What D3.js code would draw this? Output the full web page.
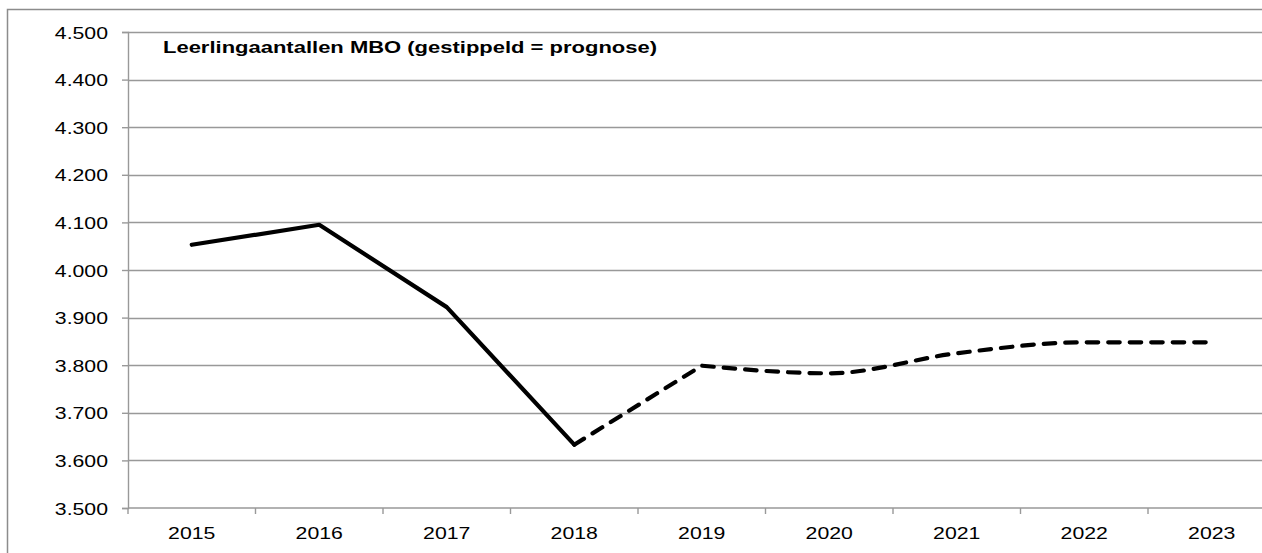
<!DOCTYPE html>
<html>
<head>
<meta charset="utf-8">
<script src="https://cdn.jsdelivr.net/npm/d3@7"></script>
<style>
  html, body { margin: 0; padding: 0; background: #fff; }
  svg { display: block; }
  text { font-family: "Liberation Sans", Arial, sans-serif; fill: #000; }
</style>
</head>
<body>
<svg id="chart" width="1262" height="553"></svg>
<script>
// Student numbers MBO (x 1,000): measured years and forecast
const years = ["2015", "2016", "2017", "2018", "2019", "2020", "2021", "2022", "2023"];
const actualYears = ["2015", "2016", "2017", "2018"];
const actualValues = [4053, 4095, 3922, 3633];
const forecastYears = ["2018", "2019", "2020", "2021", "2022", "2023"];
const forecastValues = [3633, 3799, 3783, 3825, 3848, 3848];
const yTicks = [3500, 3600, 3700, 3800, 3900, 4000, 4100, 4200, 4300, 4400, 4500];
const titleText = "Leerlingaantallen MBO (gestippeld = prognose)";

const svg = d3.select("#chart");
const plotLeft = 128, plotRight = 1275.5, plotTop = 32, plotBottom = 508;
const grey = "#999";
const stretch = 1.25;

// Outer chart frame
svg.append("rect")
  .attr("x", 7.5).attr("y", 9.5)
  .attr("width", 1400).attr("height", 700)
  .attr("fill", "none").attr("stroke", "#8c8c8c").attr("stroke-width", 1.5);

const x = d3.scaleBand().domain(years).range([plotLeft, plotRight]).padding(0);
const y = d3.scaleLinear().domain([3500, 4500]).range([plotBottom, plotTop]);
const cx = d => x(d) + x.bandwidth() / 2;

// Horizontal gridlines
svg.append("g").selectAll("line")
  .data(yTicks.filter(v => v > 3500))
  .join("line")
  .attr("x1", plotLeft).attr("x2", plotRight)
  .attr("y1", d => Math.round(y(d)) + 0.5).attr("y2", d => Math.round(y(d)) + 0.5)
  .attr("stroke", grey).attr("stroke-width", 1.4);

// Y axis
const yAxis = svg.append("g")
  .attr("transform", `translate(${plotLeft},0)`)
  .call(d3.axisLeft(y).tickValues(yTicks).tickSize(6).tickPadding(14)
    .tickFormat(d => d3.format(".3f")(d / 1000)));
yAxis.select(".domain").attr("stroke", grey).attr("stroke-width", 1.4);
yAxis.selectAll(".tick line").attr("stroke", grey).attr("stroke-width", 1.4);
yAxis.selectAll(".tick text")
  .attr("font-size", 17).attr("font-family", "Liberation Sans, Arial, sans-serif")
  .attr("fill", "#000").attr("dy", "0.36em");

// X axis with ticks between categories
const xAxis = svg.append("g").attr("transform", `translate(0,${plotBottom})`);
xAxis.append("line")
  .attr("x1", plotLeft).attr("x2", plotRight).attr("y1", 0).attr("y2", 0)
  .attr("stroke", grey).attr("stroke-width", 1.4);
xAxis.selectAll("line.tk")
  .data(years.concat(["end"]))
  .join("line").attr("class", "tk")
  .attr("x1", (d, i) => plotLeft + i * x.bandwidth()).attr("x2", (d, i) => plotLeft + i * x.bandwidth())
  .attr("y1", 0).attr("y2", 6)
  .attr("stroke", grey).attr("stroke-width", 1.4);
xAxis.selectAll("text")
  .data(years)
  .join("text")
  .attr("x", d => cx(d)).attr("y", 31)
  .attr("text-anchor", "middle")
  .attr("font-size", 17)
  .text(d => d);

// Measured series: straight solid segments
const lineLinear = d3.line().x(d => cx(d[0])).y(d => y(d[1]));
svg.append("path")
  .attr("d", lineLinear(d3.zip(actualYears, actualValues)))
  .attr("fill", "none").attr("stroke", "#000").attr("stroke-width", 4.2)
  .attr("stroke-linejoin", "round").attr("stroke-linecap", "round");

// Forecast series: straight first step, smoothed afterwards, one dashed path
const fc = d3.zip(forecastYears, forecastValues);
const lineSmooth = d3.line().x(d => cx(d[0])).y(d => y(d[1])).curve(d3.curveMonotoneX);
const dFirst = lineLinear(fc.slice(0, 2));
const dRest = lineSmooth(fc.slice(1)).replace(/^M[^LC]*/, "");
svg.append("path")
  .attr("d", dFirst + dRest)
  .attr("fill", "none").attr("stroke", "#000").attr("stroke-width", 4.2)
  .attr("stroke-dasharray", "11.5,10")
  .attr("stroke-linejoin", "round").attr("stroke-linecap", "round");

// Title inside plot area
svg.append("text")
  .attr("class", "title")
  .attr("x", 163).attr("y", 53)
  .attr("font-size", 17).attr("font-weight", "bold")
  .text(titleText);

// Horizontally widen all labels
svg.selectAll("text").each(function () {
  const t = d3.select(this);
  const len = this.getComputedTextLength();
  const target = t.classed("title") ? 494 : len * stretch;
  t.attr("textLength", target).attr("lengthAdjust", "spacingAndGlyphs");
});
</script>
</body>
</html>
